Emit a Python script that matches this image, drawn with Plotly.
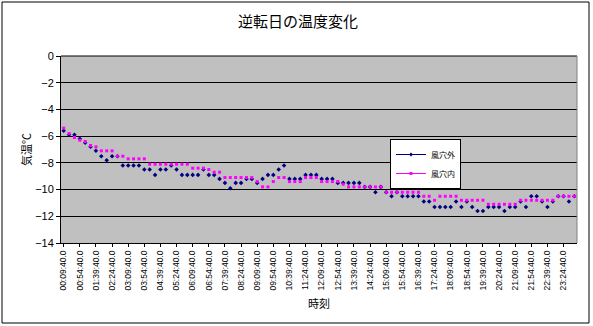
import plotly.graph_objects as go

# categories: 15-minute samples from 00:09:40.0 to 23:54:40.0
times = [f"{(9 + 15 * k) // 60:02d}:{(9 + 15 * k) % 60:02d}:40.0" for k in range(96)]

tick_labels = [
    "00:09:40.0", "00:54:40.0", "01:39:40.0", "02:24:40.0", "03:09:40.0", "03:54:40.0",
    "04:39:40.0", "05:24:40.0", "06:09:40.0", "06:54:40.0", "07:39:40.0", "08:24:40.0",
    "09:09:40.0", "09:54:40.0", "10:39:40.0", "11:24:40.0", "12:09:40.0", "12:54:40.0",
    "13:39:40.0", "14:24:40.0", "15:09:40.0", "15:54:40.0", "16:39:40.0", "17:24:40.0",
    "18:09:40.0", "18:54:40.0", "19:39:40.0", "20:24:40.0", "21:09:40.0", "21:54:40.0",
    "22:39:40.0", "23:24:40.0",
]

outside = [
    -5.6, -5.9, -5.9, -6.2, -6.5, -6.8, -7.1, -7.5, -7.8, -7.5,
    -7.5, -8.2, -8.2, -8.2, -8.2, -8.5, -8.5, -8.9, -8.5, -8.5,
    -8.2, -8.5, -8.9, -8.9, -8.9, -8.9, -8.5, -8.9, -8.9, -9.2,
    -9.5, -9.9, -9.5, -9.5, -9.2, -9.2, -9.5, -9.2, -8.9, -8.9,
    -8.5, -8.2, -9.2, -9.2, -9.2, -8.9, -8.9, -8.9, -9.2, -9.2,
    -9.2, -9.5, -9.5, -9.5, -9.5, -9.5, -9.8, -9.8, -10.2, -9.8,
    -10.2, -10.5, -10.2, -10.5, -10.5, -10.5, -10.5, -10.9, -10.9, -11.3,
    -11.3, -11.3, -11.3, -10.9, -11.3, -10.9, -11.3, -11.6, -11.6, -11.3,
    -11.3, -11.3, -11.6, -11.3, -11.3, -10.9, -11.3, -10.5, -10.5, -10.9,
    -11.3, -10.9, -10.5, -10.5, -10.9, -10.5,
]

inside = [
    -5.4, -5.8, -6.1, -6.3, -6.4, -6.7, -6.8, -7.1, -7.1, -7.1,
    -7.5, -7.5, -7.7, -7.7, -7.7, -7.7, -8.1, -8.1, -8.1, -8.1,
    -8.1, -8.1, -8.1, -8.1, -8.4, -8.4, -8.4, -8.5, -8.7, -8.7,
    -9.1, -9.1, -9.1, -9.1, -9.1, -9.1, -9.4, -9.8, -9.8, -9.4,
    -9.1, -9.1, -9.4, -9.4, -9.4, -9.1, -9.1, -9.1, -9.4, -9.4,
    -9.4, -9.4, -9.6, -9.8, -9.8, -9.8, -9.8, -9.8, -9.8, -9.8,
    -10.2, -10.2, -10.2, -10.2, -10.2, -10.2, -10.2, -10.5, -10.5, -10.8,
    -10.5, -10.5, -10.5, -10.5, -10.8, -10.8, -10.8, -10.8, -10.8, -11.1,
    -11.1, -11.1, -11.1, -11.1, -11.1, -10.8, -10.8, -10.8, -10.8, -10.8,
    -10.8, -10.8, -10.5, -10.5, -10.5, -10.5,
]

series_names = ["風穴外", "風穴内"]
series_colors = ["#000080", "#ff00ff"]

W, H = 593, 326
L, R, T, B = 61, 16, 56, 83
pw, ph = W - L - R, H - T - B

fig = go.Figure()
fig.add_trace(go.Scatter(
    x=times, y=outside, name=series_names[0], mode="markers", showlegend=False,
    marker=dict(symbol="diamond", size=3.5, color=series_colors[0]),
))
fig.add_trace(go.Scatter(
    x=times, y=inside, name=series_names[1], mode="markers", showlegend=False,
    marker=dict(symbol="square", size=3, color=series_colors[1]),
))
# legend entries drawn as line + small marker, like the reference
for nm, col, sym in zip(series_names, series_colors, ["diamond", "square"]):
    fig.add_trace(go.Scatter(
        x=[None], y=[None], name=nm, mode="lines+markers",
        line=dict(color=col, width=1), marker=dict(symbol=sym, size=3, color=col),
    ))

fig.update_layout(
    width=W, height=H,
    margin=dict(l=L, r=R, t=T, b=B),
    paper_bgcolor="white",
    plot_bgcolor="#c0c0c0",
    font=dict(family="Liberation Sans, Arial, sans-serif", color="black", size=11),
    title=dict(
        text="逆転日の温度変化", x=(298 - L) / pw, xref="paper", xanchor="center",
        y=1 - 22 / H, yanchor="middle",
        font=dict(family="Noto Sans CJK JP", size=15, color="black"),
    ),
    showlegend=True,
    legend=dict(
        x=(390 - L) / pw, y=(243 - 139) / ph, xanchor="left", yanchor="top",
        bgcolor="white", bordercolor="black", borderwidth=1,
        font=dict(family="Noto Sans CJK JP", size=8),
        tracegroupgap=0, itemwidth=30,
    ),
)

fig.update_xaxes(
    type="category", categoryorder="array", categoryarray=times,
    range=[-0.5, 95.5],
    tickmode="array", tickvals=tick_labels, ticktext=tick_labels,
    tickangle=-90, tickfont=dict(size=8.5, family="Liberation Sans, Arial"),
    showline=True, linecolor="black", linewidth=1, mirror=False,
    ticks="outside", ticklen=3, tickcolor="black",
    showgrid=False, zeroline=False,
    title=dict(text="時刻", font=dict(family="Noto Sans CJK JP", size=11), standoff=10),
)
fig.update_yaxes(
    range=[-14, 0], dtick=2, tick0=0,
    showline=True, linecolor="black", linewidth=1,
    ticks="outside", ticklen=4, tickcolor="black",
    showgrid=True, gridcolor="black", gridwidth=1, zeroline=False,
    tickfont=dict(size=11),
    title=dict(text="気温℃", font=dict(family="Noto Sans CJK JP", size=11), standoff=1),
)

# outer chart frame
fig.add_shape(
    type="rect", xref="paper", yref="paper",
    x0=(2 - L) / pw, x1=(589 - L) / pw,
    y0=-(B - 3) / ph, y1=1 + (T - 2) / ph,
    line=dict(color="black", width=1), fillcolor="rgba(0,0,0,0)", layer="below",
)
fig.add_shape(
    type="line", xref="paper", yref="paper", x0=0, x1=1, y0=1, y1=1,
    line=dict(color="black", width=1),
)
fig.add_shape(
    type="line", xref="paper", yref="paper", x0=1, x1=1, y0=0, y1=1,
    line=dict(color="#808080", width=1),
)

fig.write_html("out.html")
